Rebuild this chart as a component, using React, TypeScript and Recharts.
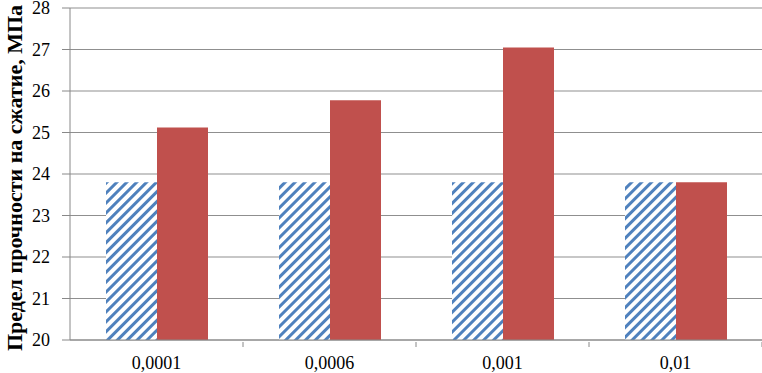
import React from "react";
import { BarChart, Bar, XAxis, YAxis, CartesianGrid } from "recharts";

const categories = ["0,0001", "0,0006", "0,001", "0,01"];
const seriesA = [23.8, 23.8, 23.8, 23.8];
const seriesB = [25.12, 25.78, 27.05, 23.8];
const yTicks = [20, 21, 22, 23, 24, 25, 26, 27, 28];

const data = categories.map((c, i) => ({ name: c, a: seriesA[i], b: seriesB[i] }));

const W = 762;
const H = 373;
const LEFT = 70;
const catW = (W - LEFT) / categories.length;

const XTick = (props: any) => {
  const { x, y, payload } = props;
  return (
    <g>
      <line x1={x + catW / 2} x2={x + catW / 2} y1={y - 6} y2={y - 1} stroke="#888" />
      <text x={x} y={y + 21} textAnchor="middle" fontFamily="'Liberation Serif', serif" fontSize={18} fill="#000">
        {payload.value}
      </text>
    </g>
  );
};

export default function App() {
  return (
    <div style={{ position: "absolute", left: 0, top: 0, width: W, height: H, background: "#fff" }}>
      <BarChart
        width={W}
        height={H}
        data={data}
        margin={{ top: 8, right: 0, left: 0, bottom: 0 }}
        barGap={0}
        barCategoryGap={36}
      >
        <defs>
          <pattern id="hatch" patternUnits="userSpaceOnUse" width="7" height="7" patternTransform="rotate(45)">
            <rect width="7" height="7" fill="#fff" />
            <rect x="0" y="0" width="3" height="7" fill="#4F81BD" />
          </pattern>
        </defs>
        <CartesianGrid vertical={false} stroke="#8f8f8f" />
        <XAxis
          dataKey="name"
          height={33}
          stroke="#888"
          tickLine={false}
          tick={<XTick />}
          interval={0}
        />
        <YAxis
          domain={[20, 28]}
          ticks={yTicks}
          width={LEFT}
          stroke="#888"
          tickSize={8}
          tickMargin={12}
          interval={0}
          tick={{ fontFamily: "'Liberation Serif', serif", fontSize: 18, fill: "#000" }}
          label={{
            value: "Предел прочности  на сжатие, МПа",
            angle: -90,
            position: "insideLeft",
            dx: 9,
            dy: 4,
            style: { fontFamily: "'Liberation Serif', serif", fontSize: 22, fontWeight: "bold", fill: "#000", textAnchor: "middle", whiteSpace: "pre" },
          }}
        />
        <Bar dataKey="a" fill="url(#hatch)" isAnimationActive={false} />
        <Bar dataKey="b" fill="#C0504D" isAnimationActive={false} />
      </BarChart>
    </div>
  );
}
